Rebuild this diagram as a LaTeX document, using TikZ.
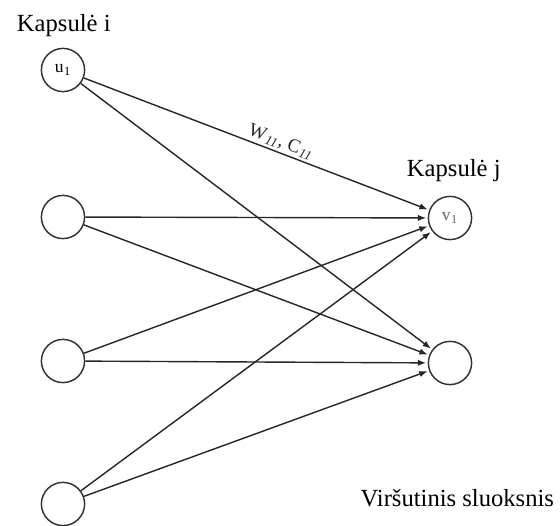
\documentclass[tikz,border=0pt]{standalone}
\usepackage{fontspec}
\setmainfont{Liberation Serif}
\usepackage{tikz}
\usetikzlibrary{arrows.meta,positioning}

\begin{document}
\begin{tikzpicture}[x=0.025cm, y=-0.025cm, >={Latex[length=6pt,width=4.5pt]},
    every node/.style={align=center,font=\fontsize{17.5}{20}\selectfont},
    capsule/.style={draw=black!80,line width=1.05pt,circle,inner sep=0pt,minimum size=1.08cm,
      font=\fontsize{12.5}{14}\selectfont},
    link/.style={->,line width=1pt,black!85,shorten >=1pt}]
    \useasboundingbox (0,0) rectangle (560,526);
    % lower layer
    \node[capsule] (u1) at (63,70) {u\kern0.3pt\textsubscript{1}};
    \node[capsule] (u2) at (63,217) {};
    \node[capsule] (u3) at (63,361) {};
    \node[capsule] (u4) at (63,504) {};
    % upper layer
    \node[capsule,text=black!60] (v1) at (450,218) {v\kern0.3pt\textsubscript{1}};
    \node[capsule] (v2) at (450,363) {};
    \node[anchor=base west] (capi) at (12,31) {Kapsulė i};
    \node[anchor=base west] (capj) at (402,176) {Kapsulė j};
    \node[anchor=base east] (layer) at (559,506) {Viršutinis sluoksnis};
    \draw[link] (u1) -- node[sloped,above,pos=0.56,inner sep=1.5pt,font=\fontsize{13.5}{15}\selectfont]
      {W\kern0.8pt\textsubscript{\itshape 11}, C\kern0.8pt\textsubscript{\itshape 11}} (v1);
    \draw[link] (u1) -- (v2);
    \draw[link] (u2) -- (v1);
    \draw[link] (u2) -- (v2);
    \draw[link] (u3) -- (v1);
    \draw[link] (u3) -- (v2);
    \draw[link] (u4) -- (v1);
    \draw[link] (u4) -- (v2);
  \end{tikzpicture}
\end{document}
